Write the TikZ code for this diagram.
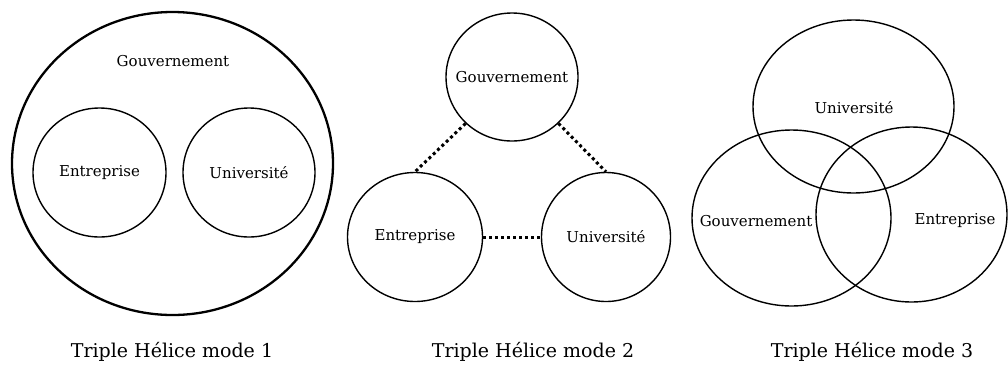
\documentclass[tikz,border=0pt]{standalone}
\usepackage{fontspec}
\setmainfont{DejaVu Serif}
\usetikzlibrary{shapes.geometric}
\begin{document}
\begin{tikzpicture}[x=1pt,y=-1pt,
  blob/.style={draw=black,ellipse,line width=1.4pt,inner sep=0pt},
  lbl/.style={font=\fontsize{15}{17}\selectfont,inner sep=0pt},
  captxt/.style={font=\fontsize{19}{21}\selectfont,inner sep=0pt},
  dotline/.style={line width=3pt,dash pattern=on 3pt off 3pt}]
\useasboundingbox (0,0) rectangle (1008,373);
% Mode 1
\node[blob,line width=2.3pt,minimum width=321pt,minimum height=303pt] (big) at (172.5,163.5) {};
\node[lbl] (g1) at (173,61) {Gouvernement};
\node[blob,minimum width=133pt,minimum height=129pt] (e1) at (99.5,172.5) {};
\node[blob,minimum width=132pt,minimum height=129pt] (u1) at (249,172.5) {};
\node[lbl] (te1) at (e1.center) {Entreprise};
\node[lbl] (tu1) at (u1.center) {Université};
\node[captxt] (c1) at (172,352) {Triple Hélice mode 1};
% Mode 2
\node[blob,minimum width=132pt,minimum height=128pt] (g2) at (512,77) {};
\node[blob,minimum width=135pt,minimum height=129pt] (e2) at (415,237) {};
\node[blob,minimum width=129pt,minimum height=129pt] (u2) at (606,237) {};
\node[lbl] (tg2) at (g2.center) {Gouvernement};
\node[lbl] (te2) at (e2.center) {Entreprise};
\node[lbl] (tu2) at (u2.center) {Université};
\draw[dotline] (g2.225) -- (e2.north);
\draw[dotline] (g2.-45) -- (u2.north);
\draw[dotline] (e2.east) -- (u2.west);
\node[captxt] (c2) at (533,352) {Triple Hélice mode 2};
% Mode 3
\node[blob,minimum width=201pt,minimum height=173pt] (u3) at (853.5,106.5) {};
\node[blob,minimum width=199pt,minimum height=176pt] (g3) at (791.5,218) {};
\node[blob,minimum width=191pt,minimum height=175pt] (e3) at (911.5,214.5) {};
\node[lbl] (tu3) at (854,108) {Université};
\node[lbl] (tg3) at (756,221) {Gouvernement};
\node[lbl] (te3) at (955,221) {Entreprise};
\node[captxt] (c3) at (872,352) {Triple Hélice mode 3};
\end{tikzpicture}
\end{document}
